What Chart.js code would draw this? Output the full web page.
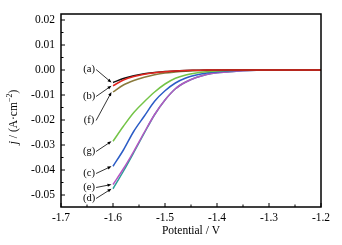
<!DOCTYPE html>
<html>
<head>
<meta charset="utf-8">
<script src="https://cdn.jsdelivr.net/npm/chart.js@4.4.1/dist/chart.umd.min.js"></script>
<style>
  html, body { margin: 0; padding: 0; background: #fff; }
  #wrap { width: 342px; height: 245px; }
</style>
</head>
<body>
<div id="wrap"><canvas id="lsv" width="342" height="245"></canvas></div>
<script>
// Potential (V) sample points shared by all curves
const potential = [-1.60, -1.58, -1.56, -1.54, -1.52, -1.50, -1.48, -1.46, -1.44, -1.42, -1.40, -1.38, -1.35, -1.30, -1.25, -1.20];

// current density j (A/cm2)
const curveA = [-0.0050, -0.0034, -0.0023, -0.0015, -0.0010, -0.0006, -0.0004, -0.0002, -0.0001, 0, 0, 0, 0, 0, 0, 0];
const curveB = [-0.0063, -0.0040, -0.0026, -0.0017, -0.0011, -0.0007, -0.0004, -0.0002, -0.0001, 0, 0, 0, 0, 0, 0, 0];
const curveC = [-0.0385, -0.0320, -0.0245, -0.0185, -0.0125, -0.0083, -0.0052, -0.0032, -0.0020, -0.0012, -0.0007, -0.0004, -0.0001, 0, 0, 0];
const curveD = [-0.0475, -0.0405, -0.0330, -0.0253, -0.0179, -0.0120, -0.0075, -0.0048, -0.0030, -0.0018, -0.0011, -0.0008, -0.0003, 0, 0, 0];
const curveE = [-0.0458, -0.0395, -0.0325, -0.0250, -0.0178, -0.0120, -0.0075, -0.0048, -0.0030, -0.0018, -0.0011, -0.0008, -0.0003, 0, 0, 0];
const curveF = [-0.0088, -0.0060, -0.0042, -0.0029, -0.0019, -0.0012, -0.0008, -0.0005, -0.0003, -0.0002, -0.0001, 0, 0, 0, 0, 0];
const curveG = [-0.0285, -0.0225, -0.0170, -0.0127, -0.0088, -0.0056, -0.0033, -0.0020, -0.0012, -0.0007, -0.0004, -0.0002, -0.0001, 0, 0, 0];

// curve names and where their tags sit (j value of the tag text)
const curveNames = ["(b)", "(a)", "(f)", "(g)", "(c)", "(e)", "(d)"];
const tagCurrent = [-0.0106, 0.0002, -0.0202, -0.0326, -0.0414, -0.0470, -0.0514];
const tagPotential = -1.646;

const xTickValues = [-1.7, -1.6, -1.5, -1.4, -1.3, -1.2];
const yTickValues = [0.02, 0.01, 0.00, -0.01, -0.02, -0.03, -0.04, -0.05];

const serif = "'Liberation Serif', 'Times New Roman', serif";

function pts(ys) {
  return potential.map((x, i) => ({ x: x, y: ys[i] }));
}

// first dataset is painted last (on top)
const series = [curveB, curveA, curveF, curveG, curveC, curveE, curveD];
const colours = ["#e3261f", "#111111", "#8a7a3c", "#74c447", "#2b5cc6", "#b457c2", "#2a9f98"];

const datasets = series.map((ys, i) => ({
  label: curveNames[i],
  data: pts(ys),
  borderColor: colours[i],
  borderWidth: 1.5,
  pointRadius: 0,
  cubicInterpolationMode: "monotone",
  fill: false
}));

const decorations = {
  id: "decorations",
  afterDraw(chart) {
    const ctx = chart.ctx;
    const a = chart.chartArea;
    const xs = chart.scales.x, ys = chart.scales.y;
    ctx.save();
    ctx.strokeStyle = "#000";
    ctx.fillStyle = "#000";

    // frame
    ctx.lineWidth = 1.5;
    ctx.strokeRect(a.left, a.top, a.right - a.left, a.bottom - a.top);

    // inward ticks, majors and minors
    ctx.lineWidth = 1;
    ctx.beginPath();
    for (let i = 0; i < xTickValues.length; i++) {
      const px = xs.getPixelForValue(xTickValues[i]);
      ctx.moveTo(px, a.bottom); ctx.lineTo(px, a.bottom - 4);
      if (i < xTickValues.length - 1) {
        const mx = xs.getPixelForValue((xTickValues[i] + xTickValues[i + 1]) / 2);
        ctx.moveTo(mx, a.bottom); ctx.lineTo(mx, a.bottom - 2.5);
      }
    }
    for (let i = 0; i < yTickValues.length; i++) {
      const py = ys.getPixelForValue(yTickValues[i]);
      ctx.moveTo(a.left, py); ctx.lineTo(a.left + 4, py);
      const nxt = i < yTickValues.length - 1 ? yTickValues[i + 1] : yTickValues[i] - 0.01;
      const my = ys.getPixelForValue((yTickValues[i] + nxt) / 2);
      if (my < a.bottom) { ctx.moveTo(a.left, my); ctx.lineTo(a.left + 2.5, my); }
    }
    const topMinor = ys.getPixelForValue(yTickValues[0] + 0.005);
    if (topMinor > a.top) { ctx.moveTo(a.left, topMinor); ctx.lineTo(a.left + 2.5, topMinor); }
    ctx.stroke();

    // x title
    ctx.font = "11.5px " + serif;
    ctx.textAlign = "center";
    ctx.textBaseline = "middle";
    ctx.fillText("Potential / V", (a.left + a.right) / 2, 231);

    // y title: j / (A·cm⁻²)
    const parts = [
      { t: "j", f: "italic 11.5px " + serif, dy: 0 },
      { t: " / (A\u00b7cm", f: "11.5px " + serif, dy: 0 },
      { t: "\u22122", f: "8px " + serif, dy: -4 },
      { t: ")", f: "11.5px " + serif, dy: 0 }
    ];
    let total = 0;
    parts.forEach(p => { ctx.font = p.f; p.w = ctx.measureText(p.t).width; total += p.w; });
    ctx.save();
    ctx.translate(14, 117);
    ctx.rotate(-Math.PI / 2);
    ctx.textAlign = "left";
    let cx = -total / 2;
    parts.forEach(p => { ctx.font = p.f; ctx.fillText(p.t, cx, p.dy); cx += p.w; });
    ctx.restore();

    // curve tags with arrows
    ctx.font = "10.5px " + serif;
    ctx.textAlign = "center";
    ctx.lineWidth = 0.8;
    curveNames.forEach((name, i) => {
      const tx = xs.getPixelForValue(tagPotential);
      const ty = ys.getPixelForValue(tagCurrent[i]);
      ctx.fillText(name, tx, ty);
      const sx = tx + 7, sy = ty;
      const ex = xs.getPixelForValue(potential[0]) - 1.5;
      const ey = ys.getPixelForValue(series[i][0]);
      const ang = Math.atan2(ey - sy, ex - sx);
      ctx.beginPath();
      ctx.moveTo(sx, sy);
      ctx.lineTo(ex - 3 * Math.cos(ang), ey - 3 * Math.sin(ang));
      ctx.stroke();
      ctx.beginPath();
      ctx.moveTo(ex, ey);
      ctx.lineTo(ex - 4 * Math.cos(ang) + 1.6 * Math.sin(ang), ey - 4 * Math.sin(ang) - 1.6 * Math.cos(ang));
      ctx.lineTo(ex - 4 * Math.cos(ang) - 1.6 * Math.sin(ang), ey - 4 * Math.sin(ang) + 1.6 * Math.cos(ang));
      ctx.closePath();
      ctx.fill();
    });
    ctx.restore();
  }
};

new Chart(document.getElementById("lsv").getContext("2d"), {
  type: "line",
  data: { datasets: datasets },
  options: {
    responsive: false,
    animation: false,
    devicePixelRatio: 1,
    layout: { padding: { left: 0, top: 14, right: 21, bottom: 0 } },
    plugins: { legend: { display: false }, tooltip: { enabled: false } },
    scales: {
      x: {
        type: "linear",
        min: -1.7,
        max: -1.2,
        afterBuildTicks: s => { s.ticks = xTickValues.map(v => ({ value: v })); },
        afterFit: s => { s.height = 38; },
        grid: { display: false, drawTicks: false },
        border: { display: false },
        ticks: {
          padding: 4,
          color: "#000",
          font: { family: serif, size: 11.5 },
          maxRotation: 0,
          callback: v => v.toFixed(1)
        }
      },
      y: {
        type: "linear",
        min: -0.0548,
        max: 0.0224,
        afterBuildTicks: s => { s.ticks = yTickValues.map(v => ({ value: v })); },
        afterFit: s => { s.width = 61; },
        grid: { display: false, drawTicks: false },
        border: { display: false },
        ticks: {
          padding: 6,
          color: "#000",
          font: { family: serif, size: 11.5 },
          callback: v => v.toFixed(2)
        }
      }
    }
  },
  plugins: [decorations]
});
</script>
</body>
</html>
